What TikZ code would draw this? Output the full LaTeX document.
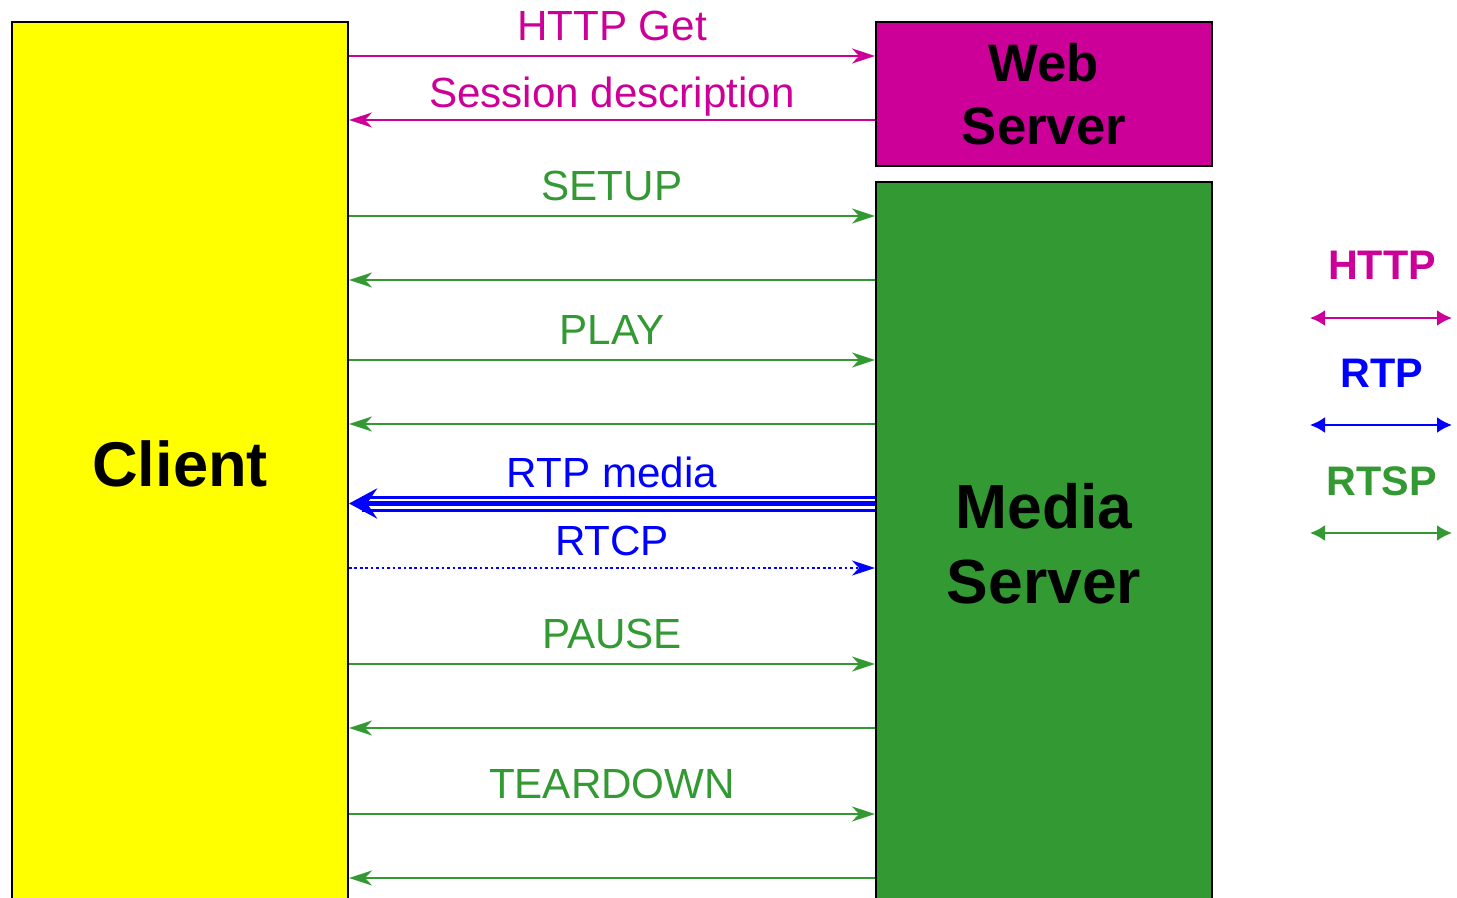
\documentclass[tikz,border=0pt]{standalone}
\usepackage{fontspec}
\setmainfont{Liberation Sans}
\usetikzlibrary{arrows.meta,positioning}
\definecolor{clientc}{RGB}{255,255,0}
\definecolor{httpc}{RGB}{204,0,153}
\definecolor{rtspc}{RGB}{51,153,51}
\definecolor{rtpc}{RGB}{0,0,255}

\begin{document}
\begin{tikzpicture}[
    x=0.02cm, y=-0.02cm,
    box/.style={draw=black,line width=1.2pt,inner sep=0pt,align=center,anchor=north west,minimum width=6.72cm},
    arr/.style={-{Stealth[length=4.6mm,width=3mm,inset=1.4mm]},line width=1.3pt},
    lbl/.style={midway,anchor=base,yshift=9pt,font=\fontsize{24}{28}\selectfont},
    rtpline/.style={rtpc,line width=1.5pt,shorten >=0.26cm},
    key/.style={{Latex[length=3mm,width=3.2mm]}-{Latex[length=3mm,width=3.2mm]},line width=1.3pt},
    keytxt/.style={font=\bfseries\fontsize{23.5}{28}\selectfont}
]
\useasboundingbox (0,0) rectangle (1457,898);
\clip (0,0) rectangle (1457,898);

\node[box,fill=clientc,minimum height=17.68cm,font=\bfseries\fontsize{36}{40}\selectfont] (client) at (11,21) {Client};
\node[box,fill=httpc,minimum height=2.88cm,font=\bfseries\fontsize{30}{36}\selectfont] (web) at (875,21) {Web\\Server};
\node[box,fill=rtspc,minimum height=14.48cm,font=\bfseries\fontsize{35.5}{42.5}\selectfont] (media) at (875,181) {Media\\Server};

% message rows
\coordinate (get) at (0,56);
\coordinate (desc) at (0,120);
\coordinate (setup) at (0,216);
\coordinate (setupok) at (0,280);
\coordinate (play) at (0,360);
\coordinate (playok) at (0,424);
\coordinate (rtpa) at (0,497.5);
\coordinate (rtp) at (0,503.5);
\coordinate (rtpb) at (0,510.5);
\coordinate (rtcp) at (0,568);
\coordinate (pause) at (0,664);
\coordinate (pauseok) at (0,728);
\coordinate (down) at (0,814);
\coordinate (downok) at (0,878);

\draw[arr,httpc] (client.east |- get) -- node[lbl] {HTTP Get} (web.west |- get);
\draw[arr,httpc] (web.west |- desc) -- node[lbl,yshift=-2pt] {Session description} (client.east |- desc);
\draw[arr,rtspc] (client.east |- setup) -- node[lbl] {SETUP} (media.west |- setup);
\draw[arr,rtspc] (media.west |- setupok) -- (client.east |- setupok);
\draw[arr,rtspc] (client.east |- play) -- node[lbl] {PLAY} (media.west |- play);
\draw[arr,rtspc] (media.west |- playok) -- (client.east |- playok);
\draw[rtpline] (media.west |- rtpa) -- (client.east |- rtpa);
\draw[rtpline] (media.west |- rtpb) -- (client.east |- rtpb);
\draw[-{Stealth[length=5.6mm,width=6mm,inset=2mm]},rtpc,line width=2.8pt] (media.west |- rtp) -- node[lbl] {RTP media} (client.east |- rtp);
\draw[arr,rtpc,line width=1.5pt,dash pattern=on 1.5pt off 1.6pt] (client.east |- rtcp) -- node[lbl,yshift=-2pt] {RTCP} (media.west |- rtcp);
\draw[arr,rtspc] (client.east |- pause) -- node[lbl] {PAUSE} (media.west |- pause);
\draw[arr,rtspc] (media.west |- pauseok) -- (client.east |- pauseok);
\draw[arr,rtspc] (client.east |- down) -- node[lbl] {TEARDOWN} (media.west |- down);
\draw[arr,rtspc] (media.west |- downok) -- (client.east |- downok);

% legend
\node[keytxt,httpc] (httptxt) at (1382,265) {HTTP};
\node[keytxt,rtpc] (rtptxt) at (1382,373) {RTP};
\node[keytxt,rtspc] (rtsptxt) at (1382,481) {RTSP};
\coordinate (httpl) at (1310,318);
\coordinate (httpr) at (1452,318);
\coordinate (rtpl) at (1310,425);
\coordinate (rtpr) at (1452,425);
\coordinate (rtspl) at (1310,533);
\coordinate (rtspr) at (1452,533);
\draw[key,httpc] (httpl) -- (httpr);
\draw[key,rtpc] (rtpl) -- (rtpr);
\draw[key,rtspc] (rtspl) -- (rtspr);
\end{tikzpicture}
\end{document}
